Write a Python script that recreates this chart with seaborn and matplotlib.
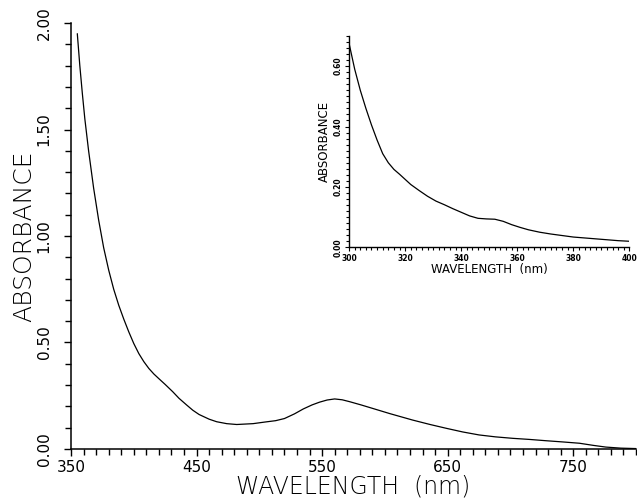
import numpy as np
import pandas as pd
import matplotlib
matplotlib.use("Agg")
import matplotlib.pyplot as plt
from matplotlib.ticker import MultipleLocator, FixedLocator
import seaborn as sns

# ---------------- data ----------------
main_wavelength = [355, 357, 359, 361, 364, 368, 372, 376, 380, 384, 388, 392,
                   396, 400, 404, 408, 412, 416, 420, 425, 431, 436, 442, 447,
                   452, 460, 466, 474, 482, 495, 505, 513, 520, 528, 535, 542,
                   548, 554, 560, 566, 572, 581, 590, 604, 622, 636, 649, 662,
                   675, 688, 702, 715, 728, 742, 755, 766, 776, 788, 800]
main_absorbance = [1.95, 1.80, 1.67, 1.55, 1.40, 1.225, 1.075, 0.945, 0.84,
                   0.75, 0.675, 0.61, 0.55, 0.495, 0.448, 0.41, 0.378, 0.352,
                   0.33, 0.303, 0.269, 0.238, 0.207, 0.182, 0.162, 0.140,
                   0.128, 0.119, 0.115, 0.119, 0.127, 0.133, 0.143, 0.165,
                   0.188, 0.207, 0.220, 0.230, 0.235, 0.231, 0.222, 0.207,
                   0.191, 0.166, 0.136, 0.115, 0.097, 0.080, 0.066, 0.057,
                   0.050, 0.045, 0.039, 0.033, 0.027, 0.017, 0.009, 0.004,
                   0.002]

inset_wavelength = [300, 302, 304, 306, 308, 310, 312, 314, 316, 318, 320, 322,
                    325, 328, 331, 334, 337, 340, 343, 346, 349, 352, 355, 358,
                    361, 364, 368, 372, 376, 380, 384, 388, 392, 396, 400]
inset_absorbance = [0.675, 0.59, 0.52, 0.46, 0.405, 0.355, 0.31, 0.28, 0.258,
                    0.242, 0.225, 0.208, 0.188, 0.169, 0.153, 0.141, 0.128,
                    0.116, 0.104, 0.096, 0.094, 0.093, 0.086, 0.075, 0.066,
                    0.058, 0.050, 0.044, 0.039, 0.034, 0.031, 0.028, 0.025,
                    0.022, 0.020]

main_xticks = [350, 450, 550, 650, 750]
main_yticks = [0.0, 0.5, 1.0, 1.5, 2.0]
inset_xticks = [300, 320, 340, 360, 380, 400]
inset_yticks = [0.0, 0.2, 0.4, 0.6]

# ---------------- plotting ----------------
sns.set_style("ticks")
plt.rcParams['font.family'] = ['DejaVu Sans']
plt.rcParams['text.color'] = 'black'
plt.rcParams['axes.labelcolor'] = 'black'

fig = plt.figure(figsize=(6.37, 4.98), dpi=100)

main_df = pd.DataFrame({"wavelength": main_wavelength, "absorbance": main_absorbance})
inset_df = pd.DataFrame({"wavelength": inset_wavelength, "absorbance": inset_absorbance})

ax = fig.add_axes([0.1115, 0.0984, 0.8869, 0.8554])
sns.lineplot(data=main_df, x="wavelength", y="absorbance", ax=ax,
             color="black", linewidth=0.9)
ax.set_xlim(350, 800)
ax.set_ylim(0, 2.0)
ax.xaxis.set_major_locator(FixedLocator(main_xticks))
ax.xaxis.set_minor_locator(MultipleLocator(10))
ax.yaxis.set_major_locator(FixedLocator(main_yticks))
ax.yaxis.set_minor_locator(MultipleLocator(0.1))
ax.set_xticklabels([f"{v:d}" for v in main_xticks], fontsize=11)
ax.set_yticklabels([f"{v:.2f}" for v in main_yticks], fontsize=11,
                   rotation=90, va="center")
ax.tick_params(axis="both", which="major", length=5, width=1.0, direction="out",
               color="black", labelcolor="black")
ax.tick_params(axis="both", which="minor", length=4, width=1.0, direction="out",
               color="black")
ax.tick_params(axis="y", which="major", pad=9)
ax.tick_params(axis="x", which="major", pad=3)
for s in ("top", "right"):
    ax.spines[s].set_visible(False)
for s in ("left", "bottom"):
    ax.spines[s].set_color("black")
    ax.spines[s].set_linewidth(1.1)
ax.set_xlabel("WAVELENGTH  (nm)", fontsize=17, fontweight="light",
              color="black", va="center")
ax.xaxis.set_label_coords(0.5, -0.087)
ax.set_ylabel("ABSORBANCE", fontsize=18, fontweight="light",
              color="black", va="center")
ax.yaxis.set_label_coords(-0.082, 0.5)

# inset
axi = fig.add_axes([0.548, 0.5034, 0.440, 0.4245])
sns.lineplot(data=inset_df, x="wavelength", y="absorbance", ax=axi,
             color="black", linewidth=0.9)
axi.set_xlim(300, 400)
axi.set_ylim(0, 0.70)
axi.xaxis.set_major_locator(FixedLocator(inset_xticks))
axi.xaxis.set_minor_locator(MultipleLocator(2))
axi.yaxis.set_major_locator(FixedLocator(inset_yticks))
axi.yaxis.set_minor_locator(MultipleLocator(0.02))
axi.set_xticklabels([f"{v:d}" for v in inset_xticks], fontsize=5.5,
                    fontweight="bold")
axi.set_yticklabels([f"{v:.2f}" for v in inset_yticks], fontsize=5.5,
                    fontweight="bold", rotation=90, va="center")
axi.tick_params(axis="both", which="major", length=3, width=0.8, direction="out",
                color="black", labelcolor="black", pad=1.5)
axi.tick_params(axis="both", which="minor", length=2, width=0.8, direction="out",
                color="black")
for s in ("top", "right"):
    axi.spines[s].set_visible(False)
for s in ("left", "bottom"):
    axi.spines[s].set_color("black")
    axi.spines[s].set_linewidth(1.0)
axi.set_xlabel("WAVELENGTH  (nm)", fontsize=8.5, labelpad=0, color="black")
axi.set_ylabel("ABSORBANCE", fontsize=8.5, labelpad=2, color="black")

fig.savefig("out.png", dpi=100, facecolor="white")
